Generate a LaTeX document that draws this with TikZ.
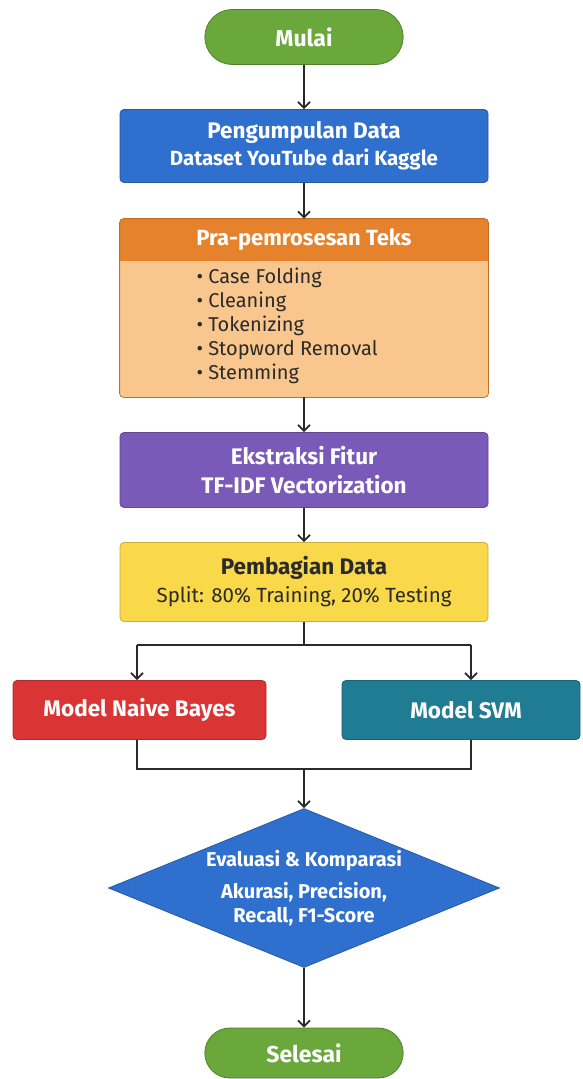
\documentclass[tikz,border=0pt]{standalone}
\usepackage{fontspec}
\setmainfont{Fira Sans}
\usetikzlibrary{arrows.meta,shapes.geometric,shapes.misc}

\definecolor{startgreen}{HTML}{6AA83C}
\definecolor{boxblue}{HTML}{2F6FCE}
\definecolor{headorange}{HTML}{E6822B}
\definecolor{bodypeach}{HTML}{F9C78E}
\definecolor{boxpurple}{HTML}{7A5AB8}
\definecolor{boxyellow}{HTML}{F9D84A}
\definecolor{boxred}{HTML}{DB3434}
\definecolor{boxteal}{HTML}{1F7C93}
\definecolor{inkdark}{HTML}{2A2A2A}

\newcommand{\subline}[1]{{\fontsize{#1}{24}\selectfont}}

\begin{document}
\begin{tikzpicture}[x=1pt, y=-1pt,
    terminal/.style={rounded rectangle, fill=startgreen, draw=startgreen!75!black, line width=0.8pt,
        minimum width=205pt, minimum height=55pt, text=white, font=\fontsize{23}{27}\selectfont\bfseries},
    stepbox/.style={rectangle, rounded corners=4pt, draw=#1!80!black, fill=#1, line width=0.8pt,
        minimum width=368pt, align=center, text=white, font=\fontsize{22.5}{27}\selectfont\bfseries},
    modelbox/.style={rectangle, rounded corners=4pt, draw=#1!80!black, fill=#1, line width=0.8pt,
        minimum height=59pt, text=white, font=\fontsize{22.5}{27}\selectfont\bfseries},
    arr/.style={-{Straight Barb[length=6pt,width=12pt]}, line width=1.8pt, inkdark},
    link/.style={line width=1.8pt, inkdark}]
    \useasboundingbox (0,0) rectangle (582,1079);

    % Start
    \node[terminal] (mulai) at (304,37) {Mulai};

    % Data collection
    \node[stepbox=boxblue, minimum height=73pt] (kumpul) at (304,146)
        {Pengumpulan Data\\ {\fontsize{20.5}{24}\selectfont Dataset YouTube dari Kaggle}};

    % Preprocessing (header + list)
    \node[rectangle, rounded corners=4pt, fill=bodypeach, line width=0.8pt,
        minimum width=368pt, minimum height=178pt] (pra) at (304,308) {};
    \begin{scope}
        \clip[rounded corners=4pt] (pra.north west) rectangle (pra.south east);
        \fill[headorange] (pra.north west) rectangle ([yshift=-42pt]pra.north east);
    \end{scope}
    \draw[rounded corners=4pt, draw=headorange!85!black, line width=0.8pt] (pra.north west) rectangle (pra.south east);
    \node[text=white, font=\fontsize{22}{27}\selectfont\bfseries] (praHead) at (304,240) {Pra-pemrosesan Teks};
    \node[anchor=north west, align=left, text=inkdark, font=\fontsize{20}{24}\selectfont] (praList) at (193,264)
        {• Case Folding\\ • Cleaning\\ • Tokenizing\\ • Stopword Removal\\ • Stemming};

    % Feature extraction
    \node[stepbox=boxpurple, minimum height=75pt] (fitur) at (304,470)
        {Ekstraksi Fitur\\[2pt] TF-IDF Vectorization};

    % Data split
    \node[stepbox=boxyellow, minimum height=79pt, text=inkdark] (bagi) at (304,582)
        {Pembagian Data\\[1pt] {\mdseries\fontsize{20.5}{24}\selectfont Split: 80\% Training, 20\% Testing}};

    % Models
    \node[modelbox=boxred, minimum width=253pt] (nb) at (139.5,710) {Model Naive Bayes};
    \node[modelbox=boxteal, minimum width=238pt] (svm) at (461,710) {\hspace*{10pt}Model SVM};

    % Evaluation
    \node[diamond, fill=boxblue, draw=boxblue!80!black, line width=0.8pt, inner sep=0pt, aspect=2.46,
        minimum width=391pt, minimum height=159pt, align=center, text=white,
        font=\fontsize{20}{24}\selectfont\bfseries] (eval) at (304,888)
        {Evaluasi \& Komparasi\\[8pt] Akurasi, Precision,\\ Recall, F1-Score};

    % End
    \node[terminal, minimum height=50pt] (selesai) at (304,1053) {Selesai};

    % Split and merge points
    \coordinate (split) at (304,645);
    \coordinate (splitL) at (137,645);
    \coordinate (splitR) at (471,645);
    \coordinate (mergeL) at (137,769);
    \coordinate (mergeR) at (471,769);
    \coordinate (merge) at (304,769);

    % Connections
    \draw[arr] (mulai) -- (kumpul);
    \draw[arr] (kumpul) -- (pra);
    \draw[arr] (pra) -- (fitur);
    \draw[arr] (fitur) -- (bagi);
    \draw[link] (bagi) -- (split);
    \draw[link] (splitL) -- (splitR);
    \draw[arr] (splitL) -- (splitL |- nb.north);
    \draw[arr] (splitR) -- (splitR |- svm.north);
    \draw[link] (nb.south -| mergeL) -- (mergeL) -- (mergeR) -- (svm.south -| mergeR);
    \draw[arr] (merge) -- (eval.north);
    \draw[arr] (eval.south) -- (selesai);
\end{tikzpicture}
\end{document}
